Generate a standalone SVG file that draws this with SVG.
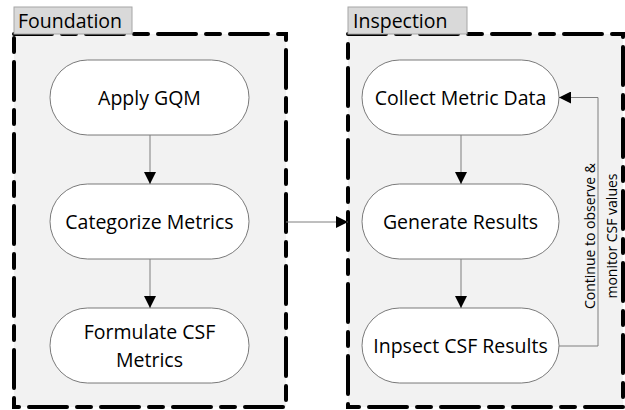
<svg xmlns="http://www.w3.org/2000/svg" width="625" height="410" viewBox="0 0 625 410">
<style>
.cont{fill:#f2f2f2;stroke:#000;stroke-width:4;stroke-dasharray:38 10 14 10;stroke-linecap:round}
.tab{fill:#d9d9d9;stroke:#a6a6a6;stroke-width:1}
.tabt{font-family:"Open Sans","Liberation Sans",sans-serif;font-size:19.5px;fill:#000}
.node{fill:#fff;stroke:#595959;stroke-width:0.8}
.nt{font-family:"Open Sans","Liberation Sans",sans-serif;font-size:19.5px;fill:#000;text-anchor:middle}
.lbl{font-family:"Open Sans","Liberation Sans",sans-serif;font-size:14px;fill:#000;text-anchor:middle}
.con{fill:none;stroke:#7f7f7f;stroke-width:1}
</style>
<defs>
<marker id="ah" markerWidth="12" markerHeight="12" viewBox="0 0 12 12" refX="12" refY="6" orient="auto" markerUnits="userSpaceOnUse">
<path d="M0,0 L12,6 L0,12 Z" fill="#000"/>
</marker>
</defs>
<g id="foundation">
<rect class="cont" x="14" y="34" width="272" height="373"/>
<rect class="tab" x="14" y="7" width="118" height="27"/>
<text class="tabt" x="18" y="28">Foundation</text>
</g>
<g id="inspection">
<rect class="cont" x="348" y="34" width="275" height="373"/>
<rect class="tab" x="348" y="7" width="119" height="27"/>
<text class="tabt" x="353" y="28">Inspection</text>
</g>
<g id="apply-gqm">
<rect class="node" x="50" y="60" width="199" height="75" rx="37.5"/>
<text class="nt" x="149.5" y="104.5">Apply GQM</text>
</g>
<g id="categorize-metrics">
<rect class="node" x="50" y="184" width="199" height="75" rx="37.5"/>
<text class="nt" x="149.5" y="228.5">Categorize Metrics</text>
</g>
<g id="formulate-csf">
<rect class="node" x="50" y="308" width="199" height="75" rx="37.5"/>
<text class="nt" x="149.5" y="339">Formulate CSF</text>
<text class="nt" x="149.5" y="367">Metrics</text>
</g>
<g id="collect-metric-data">
<rect class="node" x="362" y="60" width="197" height="75" rx="37.5"/>
<text class="nt" x="460.5" y="104.5">Collect Metric Data</text>
</g>
<g id="generate-results">
<rect class="node" x="362" y="184" width="197" height="75" rx="37.5"/>
<text class="nt" x="460.5" y="228.5">Generate Results</text>
</g>
<g id="inspect-csf-results">
<rect class="node" x="362" y="308" width="197" height="75" rx="37.5"/>
<text class="nt" x="460.5" y="352.5">Inpsect CSF Results</text>
</g>
<g id="connectors">
<line class="con" x1="150" y1="135" x2="150" y2="184" marker-end="url(#ah)"/>
<line class="con" x1="150" y1="259" x2="150" y2="308" marker-end="url(#ah)"/>
<line class="con" x1="461" y1="135" x2="461" y2="184" marker-end="url(#ah)"/>
<line class="con" x1="461" y1="259" x2="461" y2="308" marker-end="url(#ah)"/>
<line class="con" x1="286" y1="222" x2="348" y2="222" marker-end="url(#ah)"/>
<polyline class="con" points="559,346 598,346 598,97.5 559,97.5" marker-end="url(#ah)"/>
<text class="lbl" transform="translate(595,236) rotate(-90)">Continue to observe &amp;</text>
<text class="lbl" transform="translate(617,236) rotate(-90)">monitor CSF values</text>
</g>
</svg>
